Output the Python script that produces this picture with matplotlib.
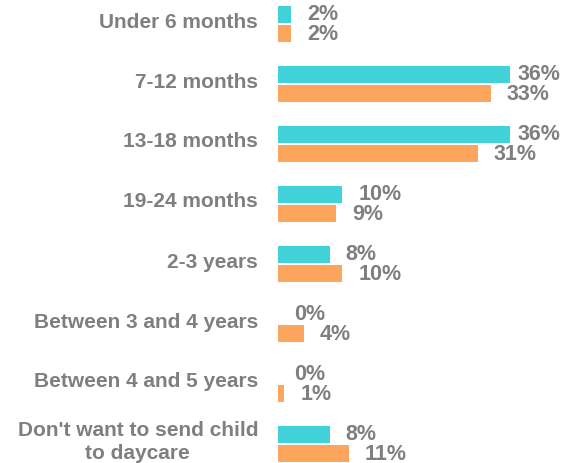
import matplotlib
matplotlib.use("Agg")
import matplotlib.pyplot as plt
import numpy as np

categories = ["Under 6 months", "7-12 months", "13-18 months", "19-24 months",
              "2-3 years", "Between 3 and 4 years", "Between 4 and 5 years",
              "Don't want to send child\nto daycare"]
series_a = [2, 36, 36, 10, 8, 0, 0, 8]
series_b = [2, 33, 31, 9, 10, 4, 1, 11]

teal = "#41d2d9"
orange = "#fda55d"
gray = "#7f7f7f"

plt.rcParams['font.family'] = ['Liberation Sans', 'DejaVu Sans']

fig = plt.figure(figsize=(5.73, 4.64), dpi=100)
W, H = 573, 464
ax = fig.add_axes([278 / W, 0, 1 - 278 / W, 1])
px_per = 6.44
ax.set_xlim(0, (W - 278) / px_per)
ax.set_ylim(7 + 19 / 60, -25 / 60)
ax.axis("off")

y = np.arange(len(categories))
h = 0.28
off = 0.163
ax.barh(y - off, series_a, height=h, color=teal, edgecolor="none")
ax.barh(y + off, series_b, height=h, color=orange, edgecolor="none")

max_x = (558 - 278) / px_per
for vals, sign in ((series_a, -1), (series_b, 1)):
    for i, v in enumerate(vals):
        lab = f"{v}%"
        x0 = v + 16 / px_per
        est_w = (len(lab) * 11 + 7) / px_per
        if x0 + est_w > max_x:
            x0 = max_x - est_w
        ax.text(x0, i + sign * off - 0.01, lab, ha="left", va="center",
                fontsize=15.5, fontweight="bold", color=gray)

for i, c in enumerate(categories):
    fig.text(258 / W, 1 - (25 + 60 * i - 3) / H, c, ha="right", va="center",
             fontsize=15, fontweight="bold", color=gray, multialignment="center",
             linespacing=1.3)

fig.savefig("out.png", dpi=100)
